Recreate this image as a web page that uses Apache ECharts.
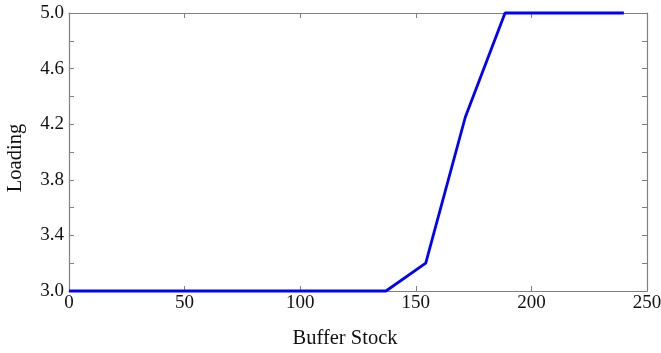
<!DOCTYPE html>
<html>
<head>
<meta charset="utf-8">
<script src="https://cdn.jsdelivr.net/npm/echarts@6/dist/echarts.min.js"></script>
<style>
  html, body { margin: 0; padding: 0; background: #fff; }
  #chart { width: 661px; height: 353px; }
</style>
</head>
<body>
<div id="chart"></div>
<script>
// Buffer stock levels and the corresponding loading
const bufferStock = [0, 17.1, 34.3, 51.4, 68.6, 85.7, 102.9, 120, 137.1, 154.3, 171.4, 188.6, 205.7, 222.9, 240];
const loading =     [3.0, 3.0, 3.0, 3.0, 3.0, 3.0, 3.0, 3.0, 3.0, 3.2, 4.25, 5.0, 5.0, 5.0, 5.0];

const xTicks = [0, 50, 100, 150, 200, 250];
const yLabels = ['3.0', '3.4', '3.8', '4.2', '4.6', '5.0'];

const font = 'Liberation Serif, Times New Roman, serif';
const axisGrey = '#808080';
const textColor = '#111';

const chart = echarts.init(document.getElementById('chart'), null, { renderer: 'canvas' });

const baseX = {
  type: 'value',
  min: xTicks[0],
  max: xTicks[xTicks.length - 1],
  interval: 50,
  splitLine: { show: false },
  axisLine: { show: true, onZero: false, lineStyle: { color: axisGrey, width: 1.2 } },
  axisTick: { show: true, inside: true, length: 5, lineStyle: { color: axisGrey, width: 1 } }
};
const baseY = {
  type: 'value',
  min: 3.0,
  max: 5.0,
  interval: 0.2,
  splitLine: { show: false },
  axisLine: { show: true, onZero: false, lineStyle: { color: axisGrey, width: 1.2 } },
  axisTick: { show: true, inside: true, length: 5, lineStyle: { color: axisGrey, width: 1 } }
};

chart.setOption({
  animation: false,
  backgroundColor: '#fff',
  grid: { left: 69, right: 14, top: 13, bottom: 62, containLabel: false, outerBoundsMode: 'none' },
  xAxis: [
    Object.assign({}, baseX, {
      position: 'bottom',
      name: 'Buffer Stock',
      nameLocation: 'middle',
      nameGap: 37,
      nameTextStyle: { fontFamily: font, fontSize: 20.5, color: textColor, padding: [0, 26, 0, 0] },
      axisLabel: {
        fontFamily: font, fontSize: 19, color: textColor, margin: 3,
        formatter: v => String(v)
      }
    }),
    Object.assign({}, baseX, {
      position: 'top',
      axisLabel: { show: false }
    })
  ],
  yAxis: [
    Object.assign({}, baseY, {
      position: 'left',
      name: 'Loading',
      nameLocation: 'middle',
      nameGap: 43,
      nameTextStyle: { fontFamily: font, fontSize: 20.5, color: textColor, padding: [0, 12, 0, 0] },
      axisLabel: {
        fontFamily: font, fontSize: 19, color: textColor, margin: 5,
        formatter: v => {
          const s = v.toFixed(1);
          return yLabels.indexOf(s) >= 0 ? s : '';
        }
      }
    }),
    Object.assign({}, baseY, {
      position: 'right',
      axisLabel: { show: false }
    })
  ],
  series: [{
    type: 'line',
    xAxisIndex: 0,
    yAxisIndex: 0,
    data: bufferStock.map((x, i) => [x, loading[i]]),
    showSymbol: false,
    symbol: 'none',
    lineStyle: { color: '#0000ff', width: 2.8 },
    clip: false
  }]
});
</script>
</body>
</html>
